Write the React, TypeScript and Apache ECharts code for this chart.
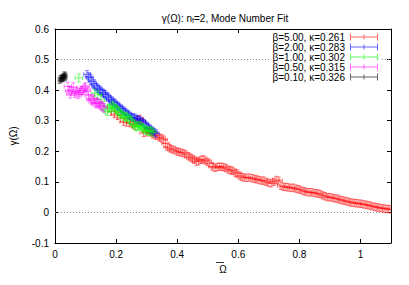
import React, { useEffect, useRef } from "react";
import * as echarts from "echarts";

const FONT = "'Liberation Sans', Arial, Helvetica, sans-serif";

const seriesNames = [
  "β=5.00, κ=0.261",
  "β=2.00, κ=0.283",
  "β=1.00, κ=0.302",
  "β=0.50, κ=0.315",
  "β=0.10, κ=0.326",
];
const seriesColors = ["#ff0000", "#0000ff", "#00ff00", "#ff00ff", "#000000"];
// [x error, y error] per series
const seriesErrors = [
  [0.012, 0.012],
  [0.011, 0.012],
  [0.012, 0.013],
  [0.012, 0.014],
  [0.005, 0.01],
];

const beta500: number[][] = [
  [0.185, 0.33], [0.195, 0.322], [0.205, 0.316], [0.215, 0.308], [0.225, 0.296], [0.235, 0.294],
  [0.245, 0.292], [0.255, 0.288], [0.262, 0.283], [0.27, 0.302], [0.278, 0.306], [0.285, 0.296],
  [0.29, 0.26], [0.298, 0.262], [0.305, 0.27], [0.312, 0.262], [0.32, 0.255], [0.328, 0.252],
  [0.335, 0.25], [0.342, 0.245], [0.35, 0.242], [0.356, 0.238], [0.362, 0.225], [0.368, 0.215],
  [0.375, 0.21], [0.382, 0.207], [0.39, 0.204], [0.398, 0.2], [0.405, 0.198], [0.412, 0.196],
  [0.42, 0.194], [0.428, 0.19], [0.436, 0.184], [0.443, 0.18], [0.45, 0.176], [0.457, 0.172],
  [0.463, 0.166], [0.47, 0.168], [0.478, 0.172], [0.485, 0.174], [0.492, 0.17], [0.5, 0.165],
  [0.507, 0.16], [0.515, 0.15], [0.523, 0.146], [0.53, 0.148], [0.538, 0.15], [0.545, 0.149],
  [0.552, 0.148], [0.56, 0.145], [0.567, 0.14], [0.575, 0.138], [0.582, 0.136], [0.59, 0.13],
  [0.597, 0.127], [0.605, 0.12], [0.612, 0.116], [0.62, 0.114], [0.628, 0.113], [0.636, 0.114],
  [0.645, 0.112], [0.653, 0.11], [0.66, 0.108], [0.668, 0.106], [0.676, 0.104], [0.684, 0.104],
  [0.692, 0.1], [0.7, 0.097], [0.708, 0.095], [0.716, 0.1], [0.724, 0.106], [0.732, 0.104],
  [0.74, 0.087], [0.748, 0.084], [0.756, 0.083], [0.764, 0.082], [0.772, 0.08], [0.78, 0.081],
  [0.788, 0.078], [0.796, 0.076], [0.804, 0.074], [0.812, 0.07], [0.82, 0.068], [0.828, 0.066],
  [0.836, 0.066], [0.844, 0.065], [0.852, 0.063], [0.86, 0.062], [0.868, 0.06], [0.876, 0.056],
  [0.884, 0.053], [0.892, 0.05], [0.9, 0.05], [0.908, 0.048], [0.916, 0.046], [0.924, 0.045],
  [0.932, 0.042], [0.94, 0.04], [0.948, 0.038], [0.956, 0.036], [0.964, 0.034], [0.972, 0.032],
  [0.98, 0.031], [0.988, 0.03], [0.996, 0.029], [1.004, 0.028], [1.012, 0.026], [1.02, 0.025],
  [1.028, 0.023], [1.036, 0.021], [1.044, 0.019], [1.052, 0.017], [1.06, 0.016], [1.068, 0.014],
  [1.076, 0.013], [1.084, 0.012], [1.092, 0.011], [1.1, 0.01],
];

const beta200: number[][] = [
  [0.105, 0.452], [0.11, 0.445], [0.115, 0.44], [0.12, 0.43], [0.125, 0.422], [0.13, 0.416],
  [0.135, 0.41], [0.14, 0.405], [0.145, 0.402], [0.15, 0.398], [0.155, 0.392], [0.16, 0.388],
  [0.165, 0.386], [0.17, 0.38], [0.175, 0.375], [0.18, 0.37], [0.185, 0.366], [0.19, 0.362],
  [0.195, 0.358], [0.2, 0.352], [0.205, 0.348], [0.21, 0.345], [0.215, 0.34], [0.22, 0.336],
  [0.225, 0.332], [0.23, 0.328], [0.235, 0.323], [0.24, 0.32], [0.245, 0.316], [0.25, 0.312],
  [0.255, 0.31], [0.26, 0.31], [0.265, 0.306], [0.27, 0.305], [0.275, 0.302], [0.28, 0.3],
  [0.285, 0.297], [0.29, 0.292], [0.295, 0.288], [0.3, 0.282], [0.305, 0.278], [0.31, 0.274],
  [0.315, 0.27], [0.32, 0.265], [0.325, 0.262], [0.33, 0.258],
];

const beta100: number[][] = [
  [0.078, 0.44], [0.13, 0.39], [0.14, 0.385], [0.15, 0.37], [0.16, 0.35], [0.165, 0.335],
  [0.172, 0.33], [0.178, 0.34], [0.183, 0.345], [0.188, 0.35], [0.193, 0.345], [0.198, 0.34],
  [0.203, 0.333], [0.208, 0.33], [0.213, 0.325], [0.218, 0.32], [0.223, 0.315], [0.228, 0.312],
  [0.233, 0.315], [0.238, 0.31], [0.243, 0.305], [0.25, 0.3], [0.255, 0.29], [0.26, 0.285],
  [0.265, 0.28], [0.27, 0.282], [0.275, 0.285], [0.28, 0.283], [0.285, 0.278], [0.29, 0.274],
  [0.295, 0.27], [0.3, 0.268], [0.305, 0.267], [0.31, 0.265], [0.315, 0.267], [0.32, 0.262],
];

const beta050: number[][] = [
  [0.042, 0.412], [0.046, 0.398], [0.05, 0.388], [0.055, 0.396], [0.06, 0.41], [0.066, 0.39],
  [0.071, 0.395], [0.076, 0.386], [0.081, 0.392], [0.086, 0.398], [0.091, 0.4], [0.096, 0.406],
  [0.1, 0.41], [0.105, 0.4], [0.11, 0.382], [0.115, 0.372], [0.12, 0.366], [0.125, 0.37],
  [0.13, 0.36], [0.135, 0.356], [0.14, 0.36], [0.145, 0.355], [0.15, 0.35], [0.155, 0.346],
  [0.16, 0.342],
];

const beta010: number[][] = [
  [0.015, 0.432], [0.018, 0.438], [0.021, 0.436], [0.023, 0.44], [0.025, 0.442], [0.027, 0.438],
  [0.029, 0.446], [0.031, 0.45], [0.033, 0.442], [0.035, 0.446],
];

const seriesData = [beta500, beta200, beta100, beta050, beta010];

const xTicks = { min: 0, max: 1.1, interval: 0.2 };
const yTicks = { min: -0.1, max: 0.6, interval: 0.1 };
const refLines = [0, 0.5];

export default function App() {
  const ref = useRef<HTMLDivElement>(null);
  useEffect(() => {
    document.body.style.margin = "0";
    if (!ref.current) return;
    const chart = echarts.init(ref.current, undefined, { renderer: "svg" });

    const series: any[] = seriesData.map((pts, i) => {
      const [xe, ye] = seriesErrors[i];
      const color = seriesColors[i];
      const s: any = {
        name: seriesNames[i],
        type: "custom",
        clip: true,
        itemStyle: { color },
        data: pts.map((p) => [p[0], p[1], xe, ye]),
        encode: { x: 0, y: 1 },
        renderItem: (params: any, api: any) => {
          const x = api.value(0);
          const y = api.value(1);
          const ex = api.value(2);
          const ey = api.value(3);
          const c = api.coord([x, y]);
          const l = api.coord([x - ex, y])[0];
          const r = api.coord([x + ex, y])[0];
          const t = api.coord([x, y + ey])[1];
          const b = api.coord([x, y - ey])[1];
          const cap = 2;
          const d =
            `M${l},${c[1]}L${r},${c[1]}` +
            `M${c[0]},${t}L${c[0]},${b}` +
            `M${l},${c[1] - cap}L${l},${c[1] + cap}` +
            `M${r},${c[1] - cap}L${r},${c[1] + cap}` +
            `M${c[0] - cap},${t}L${c[0] + cap},${t}` +
            `M${c[0] - cap},${b}L${c[0] + cap},${b}`;
          return {
            type: "path",
            shape: { pathData: d },
            style: { stroke: color, lineWidth: 1, fill: "none", opacity: 0.5 },
          };
        },
      };
      if (i === 0) {
        s.markLine = {
          silent: true,
          symbol: "none",
          z: 1,
          label: { show: false },
          lineStyle: { type: [1, 2], color: "#888", width: 1 },
          data: refLines.map((v) => ({ yAxis: v })),
        };
      }
      return s;
    });

    const axisCommon = {
      type: "value",
      axisLine: { show: true, onZero: false, lineStyle: { color: "#000", width: 1 } },
      axisTick: { show: true, inside: true, length: 4, lineStyle: { color: "#000" } },
      splitLine: { show: false },
    };

    chart.setOption({
      animation: false,
      backgroundColor: "#fff",
      textStyle: { fontFamily: FONT },
      title: {
        text: "γ(Ω): n{sub|f}=2, Mode Number Fit",
        left: 220,
        top: 7,
        textAlign: "center",
        textStyle: {
          fontFamily: FONT,
          fontSize: 10,
          fontWeight: "normal",
          color: "#000",
          rich: {
            sub: { fontSize: 7, fontFamily: FONT, verticalAlign: "bottom", padding: [5, 0, 0, 0] },
          },
        },
      },
      legend: {
        orient: "vertical",
        right: 29,
        top: 30,
        align: "right",
        itemWidth: 28,
        itemHeight: 7,
        itemGap: 0,
        padding: [2, 2, 2, 2],
        backgroundColor: "#fff",
        textStyle: { fontFamily: FONT, fontSize: 10, color: "#000", lineHeight: 10 },
        data: seriesNames.map((n) => ({
          name: n,
          icon: "path://M0,3h28v1h-28z M0,0h1v7h-1z M27,0h1v7h-1z M13.5,1h1v5h-1z",
          itemStyle: { opacity: 0.6 },
        })),
      },
      graphic: [
        {
          type: "line",
          shape: { x1: 216, y1: 262.5, x2: 224, y2: 262.5 },
          style: { stroke: "#000", lineWidth: 0.8 },
        },
      ],
      grid: { left: 49, right: 18, top: 29, bottom: 42 },
      xAxis: [
        {
          ...axisCommon,
          position: "bottom",
          ...xTicks,
          name: "Ω",
          nameLocation: "middle",
          nameGap: 21,
          nameTextStyle: { fontFamily: FONT, fontSize: 10, color: "#000" },
          axisLabel: { color: "#000", fontSize: 10, fontFamily: FONT, margin: 6, showMaxLabel: false },
        },
        { ...axisCommon, position: "top", ...xTicks, axisLabel: { show: false } },
      ],
      yAxis: [
        {
          ...axisCommon,
          position: "left",
          ...yTicks,
          name: "γ(Ω)",
          nameLocation: "middle",
          nameGap: 37,
          nameRotate: 90,
          nameTextStyle: { fontFamily: FONT, fontSize: 10, color: "#000" },
          axisLabel: { color: "#000", fontSize: 10, fontFamily: FONT, margin: 6 },
        },
        { ...axisCommon, position: "right", ...yTicks, axisLabel: { show: false } },
      ],
      series,
    });
    return () => chart.dispose();
  }, []);
  return (
    <div
      ref={ref}
      style={{ width: 409, height: 285, position: "fixed", left: 0, top: 0 }}
    />
  );
}
